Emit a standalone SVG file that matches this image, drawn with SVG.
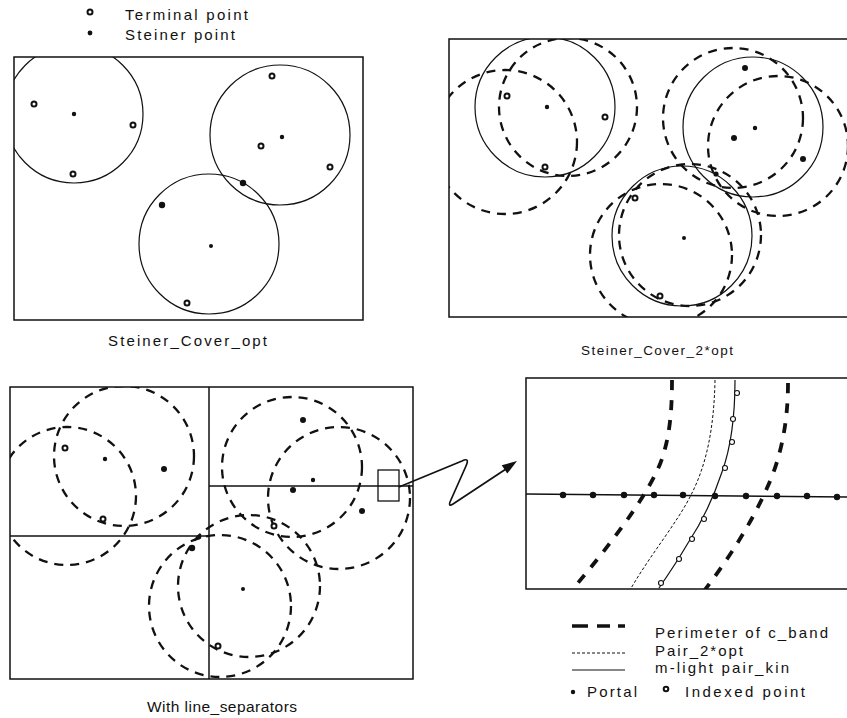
<svg xmlns="http://www.w3.org/2000/svg" width="847" height="718" viewBox="0 0 847 718">
<style>
text{font-family:"Liberation Sans",Arial,sans-serif;fill:#111}
.frame{fill:none;stroke:#111;stroke-width:1.5}
.sol{fill:none;stroke:#111;stroke-width:1.2}
.dsh{fill:none;stroke:#111;stroke-width:2.3;stroke-dasharray:9 7}
.band{fill:none;stroke:#111;stroke-width:3.8;stroke-dasharray:10 10}
.thin{fill:none;stroke:#111;stroke-width:1;stroke-dasharray:3 2}
.term{fill:#fff;stroke:#111;stroke-width:2}
.stn{fill:#111}
.big{fill:#111}
.idx{fill:#fff;stroke:#111;stroke-width:1.1}
.sep{stroke:#111;stroke-width:1.5}
</style>
<defs>
<clipPath id="c1"><rect x="14" y="57" width="349" height="263"/></clipPath>
<clipPath id="c2"><rect x="449" y="39" width="410" height="278"/></clipPath>
<clipPath id="c3"><rect x="10" y="387" width="403" height="292"/></clipPath>
<clipPath id="c4"><rect x="526" y="378" width="330" height="211"/></clipPath>
</defs>

<g id="legend-top">
<circle class="term" cx="90" cy="12" r="2.5"/>
<text x="125" y="20" font-size="15" textLength="123" lengthAdjust="spacing">Terminal point</text>
<circle class="stn" cx="90" cy="33" r="2.4"/>
<text x="125" y="40" font-size="15" textLength="110" lengthAdjust="spacing">Steiner point</text>
</g>

<g id="panel-steiner-cover-opt">
<rect class="frame" x="14" y="57" width="349" height="263"/>
<g clip-path="url(#c1)">
<circle class="sol" cx="74" cy="114" r="69"/>
<circle class="sol" cx="280" cy="135" r="70"/>
<circle class="sol" cx="209" cy="244" r="70"/>
</g>
<circle class="term" cx="34" cy="104" r="2.5"/>
<circle class="term" cx="133" cy="125" r="2.5"/>
<circle class="term" cx="73" cy="174" r="2.5"/>
<circle class="stn" cx="74" cy="114" r="2.2"/>
<circle class="term" cx="272" cy="76" r="2.5"/>
<circle class="term" cx="261" cy="146" r="2.5"/>
<circle class="term" cx="330" cy="167" r="2.5"/>
<circle class="stn" cx="282" cy="137" r="2.2"/>
<circle class="big" cx="243" cy="183" r="3.2"/>
<circle class="big" cx="162" cy="205" r="3.2"/>
<circle class="stn" cx="211" cy="246" r="2"/>
<circle class="term" cx="187" cy="303" r="2.5"/>
<text x="108" y="346" font-size="15" textLength="159" lengthAdjust="spacing">Steiner_Cover_opt</text>
</g>

<g id="panel-steiner-cover-2opt">
<rect class="frame" x="449" y="39" width="410" height="278"/>
<g clip-path="url(#c2)">
<circle class="sol" cx="545" cy="107" r="70"/>
<circle class="dsh" cx="568" cy="107" r="69"/>
<circle class="dsh" cx="505" cy="142" r="72"/>
<circle class="sol" cx="753" cy="127" r="70"/>
<circle class="dsh" cx="733" cy="118" r="70"/>
<circle class="dsh" cx="778" cy="146" r="70"/>
<circle class="sol" cx="682" cy="236" r="70"/>
<circle class="dsh" cx="661" cy="255" r="71"/>
<circle class="dsh" cx="690" cy="235" r="71"/>
</g>
<circle class="term" cx="507" cy="96" r="2.5"/>
<circle class="term" cx="605" cy="117" r="2.5"/>
<circle class="term" cx="545" cy="167" r="2.5"/>
<circle class="stn" cx="547" cy="107" r="2.2"/>
<circle class="big" cx="745" cy="68" r="3"/>
<circle class="big" cx="734" cy="138" r="3"/>
<circle class="big" cx="803" cy="159" r="3"/>
<circle class="stn" cx="755" cy="128" r="2.2"/>
<circle class="big" cx="716" cy="174" r="2.6"/>
<circle class="term" cx="635" cy="198" r="2.5"/>
<circle class="term" cx="660" cy="296" r="2.5"/>
<circle class="stn" cx="684" cy="238" r="2"/>
<text x="581" y="355" font-size="13.5" textLength="152" lengthAdjust="spacing">Steiner_Cover_2*opt</text>
</g>

<g id="panel-line-separators">
<rect class="frame" x="10" y="387" width="403" height="292"/>
<line class="sep" x1="209" y1="387" x2="209" y2="679"/>
<line class="sep" x1="10" y1="536" x2="209" y2="536"/>
<line class="sep" x1="209" y1="486" x2="413" y2="486"/>
<g clip-path="url(#c3)">
<circle class="dsh" cx="124" cy="456" r="70"/>
<circle class="dsh" cx="67" cy="496" r="69"/>
<circle class="dsh" cx="292" cy="467" r="70"/>
<circle class="dsh" cx="339" cy="498" r="71"/>
<circle class="dsh" cx="220" cy="606" r="71"/>
<circle class="dsh" cx="249" cy="586" r="71"/>
</g>
<rect x="378" y="470" width="21" height="31" fill="none" stroke="#111" stroke-width="1.3"/>
<circle class="term" cx="65" cy="448" r="2.5"/>
<circle class="stn" cx="105" cy="459" r="2.2"/>
<circle class="big" cx="164" cy="469" r="3"/>
<circle class="term" cx="103" cy="519" r="2.5"/>
<circle class="big" cx="303" cy="420" r="3"/>
<circle class="stn" cx="313" cy="480" r="2.2"/>
<circle class="big" cx="293" cy="490" r="3"/>
<circle class="big" cx="362" cy="511" r="3"/>
<circle class="term" cx="274" cy="526" r="2.5"/>
<circle class="big" cx="192" cy="548" r="3.2"/>
<circle class="big" cx="199" cy="537" r="2.4"/>
<circle class="stn" cx="243" cy="589" r="2"/>
<circle class="term" cx="218" cy="646" r="2.5"/>
<text x="147" y="712" font-size="15.5" textLength="150" lengthAdjust="spacing">With line_separators</text>
</g>

<g id="panel-zoom-detail">
<rect class="frame" x="526" y="378" width="330" height="211"/>
<line class="sep" x1="526" y1="494" x2="847" y2="497"/>
<g clip-path="url(#c4)">
<path class="band" d="M672,380 C672,420 668,450 655,475 C640,505 610,545 572,590"/>
<path class="thin" d="M715,380 C714,430 706,465 692,493 C678,522 650,555 630,590"/>
<path class="sol" d="M735,380 C735,420 730,450 722,472 C712,502 700,525 688,543 C678,560 668,575 659,588"/>
<path class="band" d="M788,383 C788,425 780,460 767,488 C752,522 730,557 704,591"/>
</g>
<g id="portals">
<circle class="big" cx="563" cy="495" r="3.2"/>
<circle class="big" cx="593" cy="495" r="3.2"/>
<circle class="big" cx="624" cy="495" r="3.2"/>
<circle class="big" cx="654" cy="495" r="3.2"/>
<circle class="big" cx="683" cy="495" r="3.2"/>
<circle class="big" cx="715" cy="496" r="3.2"/>
<circle class="big" cx="746" cy="496" r="3.2"/>
<circle class="big" cx="777" cy="496" r="3.2"/>
<circle class="big" cx="807" cy="496" r="3.2"/>
<circle class="big" cx="837" cy="497" r="3.2"/>
</g>
<g id="indexed-points">
<circle class="idx" cx="737" cy="393" r="2.5"/>
<circle class="idx" cx="733" cy="419" r="2.5"/>
<circle class="idx" cx="732" cy="442" r="2.5"/>
<circle class="idx" cx="725" cy="468" r="2.5"/>
<circle class="idx" cx="704" cy="519" r="2.5"/>
<circle class="idx" cx="692" cy="539" r="2.5"/>
<circle class="idx" cx="679" cy="559" r="2.5"/>
<circle class="idx" cx="661" cy="583" r="2.5"/>
</g>
</g>

<g id="connectors">
<path d="M399,487 L462,461 Q470,457 466,466 L450,502 Q448,507 453,504 L506,469" fill="none" stroke="#111" stroke-width="1.7" stroke-linejoin="round"/>
<polygon points="517,461 501.7,465.2 507.3,473.6" fill="#111"/>
</g>

<g id="legend-bottom">
<line x1="572" y1="626" x2="588" y2="626" stroke="#111" stroke-width="3.5"/>
<line x1="597" y1="626" x2="610" y2="626" stroke="#111" stroke-width="3.5"/>
<line x1="618" y1="626" x2="625" y2="626" stroke="#111" stroke-width="3.5"/>
<text x="655" y="638" font-size="15" textLength="173" lengthAdjust="spacing">Perimeter of c_band</text>
<line class="thin" x1="572" y1="653" x2="625" y2="653"/>
<text x="655" y="656" font-size="15" textLength="88" lengthAdjust="spacing">Pair_2*opt</text>
<line x1="572" y1="670" x2="625" y2="670" stroke="#111" stroke-width="1"/>
<text x="655" y="673" font-size="15" textLength="134" lengthAdjust="spacing">m-light pair_kin</text>
<circle class="stn" cx="573" cy="692" r="2.2"/>
<text x="587" y="697" font-size="15" textLength="50" lengthAdjust="spacing">Portal</text>
<circle class="term" cx="666" cy="689" r="2.3"/>
<text x="685" y="697" font-size="15" textLength="120" lengthAdjust="spacing">Indexed point</text>
</g>
</svg>
